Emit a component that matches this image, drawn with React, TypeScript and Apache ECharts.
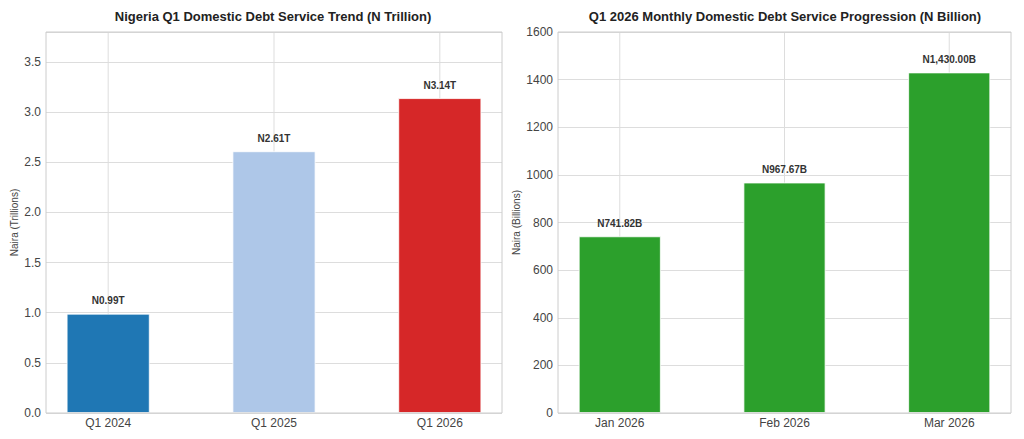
import React, { useEffect, useRef } from "react";
import * as echarts from "echarts";

const quarterCategories = ["Q1 2024", "Q1 2025", "Q1 2026"];
const quarterValues = [0.99, 2.61, 3.14];
const quarterColors = ["#1f77b4", "#aec7e8", "#d62728"];

const monthCategories = ["Jan 2026", "Feb 2026", "Mar 2026"];
const monthValues = [741.82, 967.67, 1430.0];
const monthColor = "#2ca02c";

const FONT = "Liberation Sans, Arial, sans-serif";
const fmtB = new Intl.NumberFormat("en-US", { minimumFractionDigits: 2, maximumFractionDigits: 2 });

export default function App() {
  const ref = useRef<HTMLDivElement>(null);
  useEffect(() => {
    document.body.style.margin = "0";
    if (!ref.current) return;
    const chart = echarts.init(ref.current, null, { renderer: "svg" });
    const idx = [0, 1, 2];

    const xAxisBase = (gridIndex: number, cats: string[]) => ({
      type: "value",
      gridIndex,
      min: -0.375,
      max: 2.375,
      axisLine: { show: false },
      axisTick: { show: false },
      splitLine: { show: false },
      axisLabel: {
        customValues: idx,
        formatter: (v: number) => cats[Math.round(v)] ?? "",
        color: "#444",
        fontSize: 12,
        fontFamily: FONT,
        margin: 4,
      },
    });

    const yAxisBase = (gridIndex: number, name: string, max: number, interval: number, gap: number, dec: number) => ({
      type: "value",
      gridIndex,
      min: 0,
      max,
      interval,
      name,
      nameLocation: "middle",
      nameGap: gap,
      nameRotate: 90,
      nameTextStyle: { fontSize: 10, color: "#444", fontFamily: FONT },
      axisLine: { show: false },
      axisTick: { show: false },
      splitLine: { show: true, lineStyle: { color: "#dddddd", width: 1 } },
      axisLabel: {
        formatter: (v: number) => v.toFixed(dec),
        color: "#444",
        fontSize: 12,
        fontFamily: FONT,
        margin: 5,
        showMaxLabel: max === 1600,
      },
    });

    const vGrid = (xAxisIndex: number, yAxisIndex: number, ymax: number) => ({
      type: "custom",
      xAxisIndex,
      yAxisIndex,
      z: 1,
      silent: true,
      data: idx,
      renderItem: (_params: any, api: any) => {
        const x = api.value(0);
        const p1 = api.coord([x, 0]);
        const p2 = api.coord([x, ymax]);
        return {
          type: "line",
          shape: { x1: p1[0], y1: p1[1], x2: p2[0], y2: p2[1] },
          style: { stroke: "#dddddd", lineWidth: 1 },
        };
      },
    });

    const labelStyle = {
      show: true,
      position: "top",
      distance: 8,
      fontSize: 10,
      fontWeight: "bold",
      color: "#333",
      fontFamily: FONT,
    };

    chart.setOption({
      animation: false,
      backgroundColor: "#ffffff",
      textStyle: { fontFamily: FONT },
      graphic: [
        {
          type: "text",
          x: 273,
          y: 16,
          style: {
            text: "Nigeria Q1 Domestic Debt Service Trend (N Trillion)",
            font: `bold 13px ${FONT}`,
            fill: "#222",
            textAlign: "center",
            textVerticalAlign: "middle",
          },
        },
        {
          type: "text",
          x: 785,
          y: 16,
          style: {
            text: "Q1 2026 Monthly Domestic Debt Service Progression (N Billion)",
            font: `bold 13px ${FONT}`,
            fill: "#222",
            textAlign: "center",
            textVerticalAlign: "middle",
          },
        },
      ],
      grid: [
        { left: 46, right: 522, top: 32, bottom: 26, show: true, borderColor: "#cccccc", borderWidth: 1, backgroundColor: "transparent", z: 3 },
        { left: 558, right: 13, top: 32, bottom: 26, show: true, borderColor: "#cccccc", borderWidth: 1, backgroundColor: "transparent", z: 3 },
      ],
      xAxis: [xAxisBase(0, quarterCategories), xAxisBase(1, monthCategories)],
      yAxis: [
        { ...yAxisBase(0, "Naira (Trillions)", 3.8, 0.5, 27, 1) },
        { ...yAxisBase(1, "Naira (Billions)", 1600, 200, 37, 0) },
      ],
      series: [
        vGrid(0, 0, 3.8),
        vGrid(1, 1, 1600),
        {
          type: "bar",
          xAxisIndex: 0,
          yAxisIndex: 0,
          z: 2,
          barWidth: 83,
          data: quarterValues.map((v, i) => ({
            value: [i, v],
            itemStyle: { color: quarterColors[i], borderColor: "#ffffff", borderWidth: 0.8 },
          })),
          label: { ...labelStyle, formatter: (p: any) => "N" + p.value[1].toFixed(2) + "T" },
        },
        {
          type: "bar",
          xAxisIndex: 1,
          yAxisIndex: 1,
          z: 2,
          barWidth: 82,
          data: monthValues.map((v, i) => ({
            value: [i, v],
            itemStyle: { color: monthColor, borderColor: "#ffffff", borderWidth: 0.8 },
          })),
          label: { ...labelStyle, formatter: (p: any) => "N" + fmtB.format(p.value[1]) + "B" },
        },
      ],
    });
    return () => chart.dispose();
  }, []);
  return <div ref={ref} style={{ width: 1024, height: 439 }} />;
}
